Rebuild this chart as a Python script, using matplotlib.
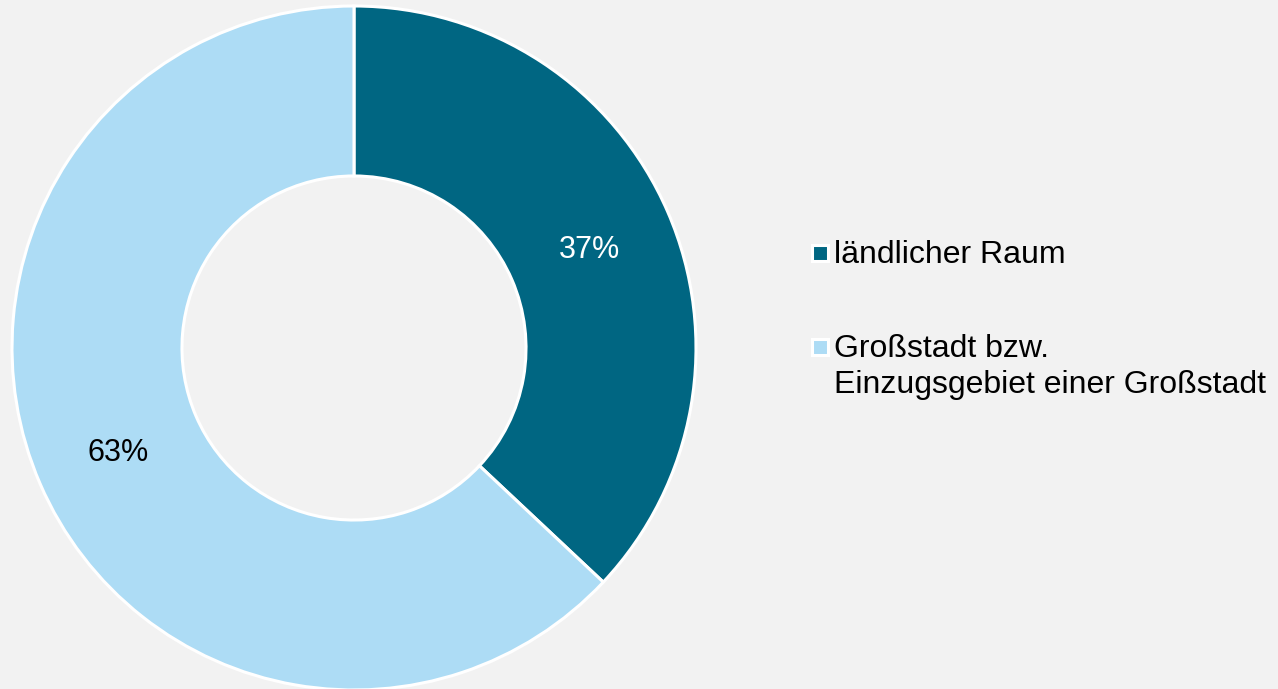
import matplotlib
matplotlib.use("Agg")
import matplotlib.pyplot as plt
from matplotlib.lines import Line2D

_BG = "#F2F2F2"
_DARK = "#006682"
_LIGHT = "#ADDCF5"

labels = ["ländlicher Raum", "Großstadt bzw.\nEinzugsgebiet einer Großstadt"]
shares = [37, 63]
colors = [_DARK, _LIGHT]
label_colors = ["white", "black"]

plt.rcParams["font.family"] = ["Liberation Sans", "DejaVu Sans"]

W, H = 1278, 689
fig = plt.figure(figsize=(W / 100, H / 100), dpi=100, facecolor=_BG)

# donut: centre (354, 348) px from top-left, radius 342 px
cx, cy, r = 354, 348, 342
ax = fig.add_axes([(cx - r) / W, (H - cy - r) / H, 2 * r / W, 2 * r / H])
ax.set_facecolor(_BG)

wedges, _, autotexts = ax.pie(
    shares, colors=colors, startangle=90, counterclock=False,
    radius=1.0, autopct="%d%%", pctdistance=0.75,
    wedgeprops=dict(width=0.497, edgecolor="white", linewidth=2.2),
    textprops=dict(fontsize=22),
)
for t, c in zip(autotexts, label_colors):
    t.set_color(c)
    t.set_verticalalignment("center_baseline")

ax.set_xlim(-1, 1)
ax.set_ylim(-1, 1)
ax.set_aspect("equal")
ax.axis("off")

# legend: square swatch next to the first line of each label
legend_rows = [253, 347]  # px from top, centre of first text line
for y, c, lab in zip(legend_rows, colors, labels):
    fy = 1 - y / H
    fig.add_artist(Line2D([820 / W], [fy], transform=fig.transFigure,
                          linestyle="none", marker="s", markersize=11,
                          markerfacecolor=c, markeredgecolor="white",
                          markeredgewidth=2.2))
    fig.text(834 / W, 1 - (y - 13) / H, lab, fontsize=23, va="top",
             ha="left", linespacing=1.25, color="black")

fig.savefig("out.png", dpi=100, facecolor=_BG)
